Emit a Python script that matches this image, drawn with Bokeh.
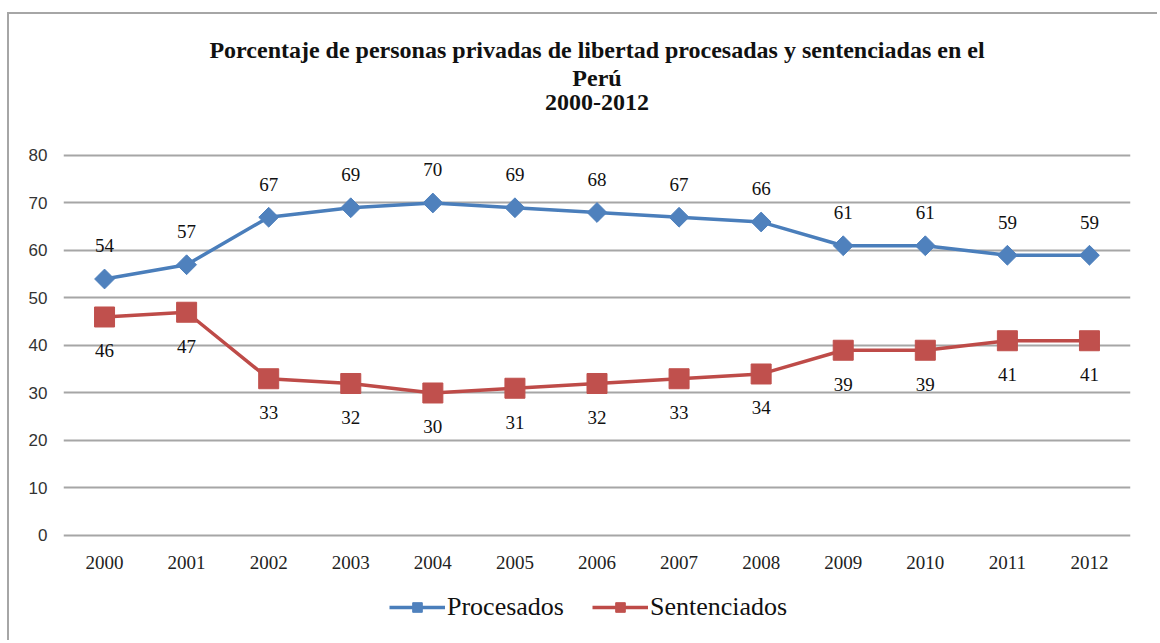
import math
from bokeh.plotting import figure
from bokeh.models import (ColumnDataSource, LabelSet, Legend, LegendItem, Title,
                          FixedTicker, FactorRange, Range1d)
from bokeh.core.properties import value
from bokeh.embed import file_html
from bokeh.resources import INLINE

years = ["2000", "2001", "2002", "2003", "2004", "2005", "2006",
         "2007", "2008", "2009", "2010", "2011", "2012"]
procesados = [54, 57, 67, 69, 70, 69, 68, 67, 66, 61, 61, 59, 59]
sentenciados = [46, 47, 33, 32, 30, 31, 32, 33, 34, 39, 39, 41, 41]
title_lines = ["Porcentaje de personas privadas de libertad procesadas y sentenciadas en el",
               "Perú", "2000-2012"]
series_names = ["Procesados", "Sentenciados"]
y_ticks = [0, 10, 20, 30, 40, 50, 60, 70, 80]

BLUE_L = "#4A7EBB"
BLUE_M = "#4F81BD"
RED_L = "#BE4B48"
RED_M = "#C0504D"
SERIF = "Liberation Serif"

src = ColumnDataSource(dict(
    x=years, p=procesados, s=sentenciados, base=[0] * len(years),
    pl=[str(v) for v in procesados], sl=[str(v) for v in sentenciados]))

# frame extends below 0 to hold the category labels and the legend
p = figure(width=1150, height=628, x_range=FactorRange(*years),
           y_range=Range1d(-20, 89.05), output_backend="svg", toolbar_location=None,
           min_border_left=54, min_border_right=29, min_border_bottom=12,
           min_border_top=98)
p.styles = {"border-top": "2px solid #a6a6a6", "border-left": "2px solid #a6a6a6",
            "margin-top": "12px", "margin-left": "7px"}
p.title = None
p.outline_line_color = None
p.background_fill_color = "white"
p.border_fill_color = "white"

standoffs = [5, 0, 0]  # innermost first
for t, so in zip(reversed(title_lines), standoffs):
    p.add_layout(Title(text=t, align="center",
                       text_font=SERIF, text_font_size="24px",
                       text_font_style="bold", text_color="#111111",
                       standoff=so), "above")

p.xgrid.grid_line_color = None
p.ygrid.grid_line_color = "#a6a6a6"
p.ygrid.grid_line_width = 2

p.yaxis.ticker = FixedTicker(ticks=y_ticks)
p.yaxis.axis_line_color = None
p.yaxis.major_tick_line_color = None
p.yaxis.minor_tick_line_color = None
p.yaxis.major_label_text_font = "Liberation Sans"
p.yaxis.major_label_text_font_size = "17px"
p.yaxis.major_label_text_color = "#333333"
p.yaxis.major_label_standoff = 10

p.xaxis.visible = False
# category labels under the 0 line
p.add_layout(LabelSet(x="x", y="base", text="x", source=src, y_offset=-27,
                      text_align="center", text_baseline="middle",
                      text_font=value(SERIF), text_font_size="19px",
                      text_color="#222222"))

l1 = p.line("x", "p", source=src, line_color=BLUE_L, line_width=3.5)
m1 = p.scatter("x", "p", source=src, marker="square", size=14, angle=math.pi / 4,
               fill_color=BLUE_M, line_color=BLUE_M)
l2 = p.line("x", "s", source=src, line_color=RED_L, line_width=3.5)
m2 = p.scatter("x", "s", source=src, marker="square", size=20,
               fill_color=RED_M, line_color=RED_M)

p.add_layout(LabelSet(x="x", y="p", text="pl", source=src, y_offset=33,
                      text_align="center", text_baseline="middle",
                      text_font=value(SERIF), text_font_size="19px",
                      text_color="#111111"))
p.add_layout(LabelSet(x="x", y="s", text="sl", source=src, y_offset=-34,
                      text_align="center", text_baseline="middle",
                      text_font=value(SERIF), text_font_size="19px",
                      text_color="#111111"))

legend = Legend(items=[LegendItem(label=series_names[0], renderers=[l1, m1]),
                       LegendItem(label=series_names[1], renderers=[l2, m2])],
                orientation="horizontal", location=(326, 8),
                label_text_font=SERIF, label_text_font_size="26px",
                label_text_color="#111111", glyph_width=56, glyph_height=24,
                spacing=28, label_standoff=2, border_line_color=None,
                background_fill_alpha=0, margin=0, padding=8)
p.add_layout(legend, "center")

open("out.html", "w").write(file_html(p, INLINE))
